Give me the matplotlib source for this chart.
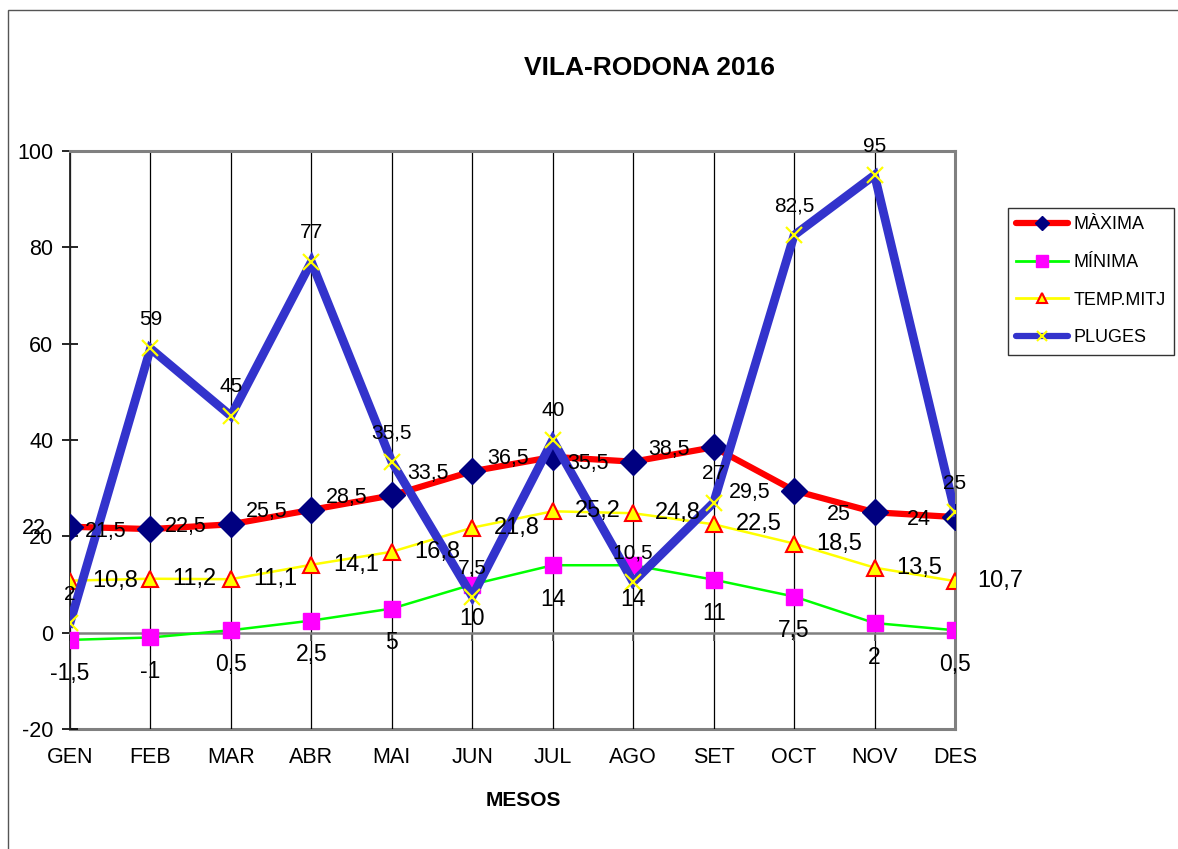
import matplotlib
matplotlib.use("Agg")
import matplotlib.pyplot as plt
from matplotlib.patches import Rectangle
from matplotlib.lines import Line2D

plt.rcParams['font.family'] = ['Liberation Sans', 'DejaVu Sans']

# ---- data ----
months = ["GEN", "FEB", "MAR", "ABR", "MAI", "JUN", "JUL", "AGO", "SET", "OCT", "NOV", "DES"]
maxima = [22, 21.5, 22.5, 25.5, 28.5, 33.5, 36.5, 35.5, 38.5, 29.5, 25, 24]
minima = [-1.5, -1, 0.5, 2.5, 5, 10, 14, 14, 11, 7.5, 2, 0.5]
temp_mitj = [10.8, 11.2, 11.1, 14.1, 16.8, 21.8, 25.2, 24.8, 22.5, 18.5, 13.5, 10.7]
pluges = [2, 59, 45, 77, 35.5, 7.5, 40, 10.5, 27, 82.5, 95, 25]
series_names = ["MÀXIMA", "MÍNIMA", "TEMP.MITJ", "PLUGES"]
y_ticks = [-20, 0, 20, 40, 60, 80, 100]

W, H = 1178, 849
fig = plt.figure(figsize=(W / 100, H / 100), dpi=100)

# outer chart border
fig.patches.append(Rectangle((8 / W, -0.1), 1.2, 1 - 10 / H + 0.1, transform=fig.transFigure,
                             fill=False, edgecolor='#555555', linewidth=1.0))

ax = fig.add_axes([70 / W, 1 - 729 / H, (955 - 70) / W, (729 - 151) / H])
x = list(range(len(months)))

ax.set_xlim(0, len(months) - 1)
ax.set_ylim(-20, 100)
ax.set_yticks(y_ticks)
ax.set_yticklabels([str(t) for t in y_ticks], fontsize=15.5)
ax.tick_params(axis='y', direction='inout', length=12, width=1.2, pad=6, colors='black')

# vertical gridlines at categories
for xi in x:
    ax.axvline(xi, color='black', linewidth=0.9, zorder=1)

# spines
for s in ['top', 'right']:
    ax.spines[s].set_color('#808080')
    ax.spines[s].set_linewidth(2.2)
ax.spines['left'].set_color('#222222')
ax.spines['left'].set_linewidth(1.3)
ax.spines['bottom'].set_position(('data', 0))
ax.spines['bottom'].set_color('#808080')
ax.spines['bottom'].set_linewidth(1.8)
ax.set_xticks(x)
ax.tick_params(axis='x', direction='out', length=6, width=1.2, color='#555555', labelbottom=False)

# bottom frame with category labels
sec = ax.secondary_xaxis('bottom')
sec.set_xticks(x)
sec.set_xticklabels(months, fontsize=15.5)
sec.tick_params(axis='x', length=0, pad=13)
sec.spines['bottom'].set_color('#808080')
sec.spines['bottom'].set_linewidth(2.2)

px = 0.72  # points per pixel

# series
ax.plot(x, maxima, color='#FF0000', linewidth=4.5, marker='D', markersize=13,
        markerfacecolor='#000080', markeredgecolor='#000080', zorder=3, solid_capstyle='round')
ax.plot(x, minima, color='#00FF00', linewidth=1.8, marker='s', markersize=12,
        markerfacecolor='#FF00FF', markeredgecolor='#FF00FF', zorder=4)
ax.plot(x, temp_mitj, color='#FFFF00', linewidth=1.8, marker='^', markersize=11,
        markerfacecolor='#FFFF00', markeredgecolor='#FF0000', markeredgewidth=1.5, zorder=5)
ax.plot(x, pluges, color='#3333CC', linewidth=6.3, marker='x', markersize=11,
        markeredgecolor='#FFFF00', markeredgewidth=1.6, zorder=6, solid_joinstyle='miter')

# data labels
for xi, v in zip(x, maxima):
    ax.annotate(f"{v:g}".replace('.', ','), (xi, v), xytext=(-24 * px, -2 * px),
                textcoords='offset points', ha='right', va='center', fontsize=15.5, zorder=8,
                annotation_clip=False)
for xi, v in zip(x, minima):
    ax.annotate(f"{v:g}".replace('.', ','), (xi, v), xytext=(0, -34 * px),
                textcoords='offset points', ha='center', va='center', fontsize=16.5, zorder=8,
                annotation_clip=False)
for xi, v in zip(x, temp_mitj):
    ax.annotate(f"{v:g}".replace('.', ','), (xi, v), xytext=(22 * px, 0),
                textcoords='offset points', ha='left', va='center', fontsize=17, zorder=8,
                annotation_clip=False)
for xi, v in zip(x, pluges):
    ax.annotate(f"{v:g}".replace('.', ','), (xi, v), xytext=(0, 29 * px),
                textcoords='offset points', ha='center', va='center', fontsize=15, zorder=8,
                annotation_clip=False)

# titles
fig.text(650 / W, 1 - 68 / H, "VILA-RODONA 2016", fontsize=19, fontweight='bold',
         ha='center', va='center')
fig.text(523 / W, 1 - 801 / H, "MESOS", fontsize=15, fontweight='bold', ha='center', va='center')

# legend
handles = [
    Line2D([], [], color='#FF0000', linewidth=4.5, marker='D', markersize=7,
           markerfacecolor='#000080', markeredgecolor='#000080', solid_capstyle='round'),
    Line2D([], [], color='#00FF00', linewidth=2, marker='s', markersize=8,
           markerfacecolor='#FF00FF', markeredgecolor='#FF00FF'),
    Line2D([], [], color='#FFFF00', linewidth=2, marker='^', markersize=7,
           markerfacecolor='#FFFF00', markeredgecolor='#FF0000', markeredgewidth=1.5),
    Line2D([], [], color='#3333CC', linewidth=4.5, marker='x', markersize=7,
           markeredgecolor='#FFFF00', markeredgewidth=1.5, solid_capstyle='round'),
]
leg = fig.legend(handles, series_names, loc='upper left',
                 bbox_to_anchor=(1008 / W, 1 - 208 / H), fontsize=13,
                 frameon=True, fancybox=False, handlelength=2.9, handletextpad=0.3,
                 borderpad=0.45, labelspacing=1.15, borderaxespad=0)
leg.get_frame().set_edgecolor('black')
leg.get_frame().set_linewidth(1.0)

fig.savefig("out.png", dpi=100)
